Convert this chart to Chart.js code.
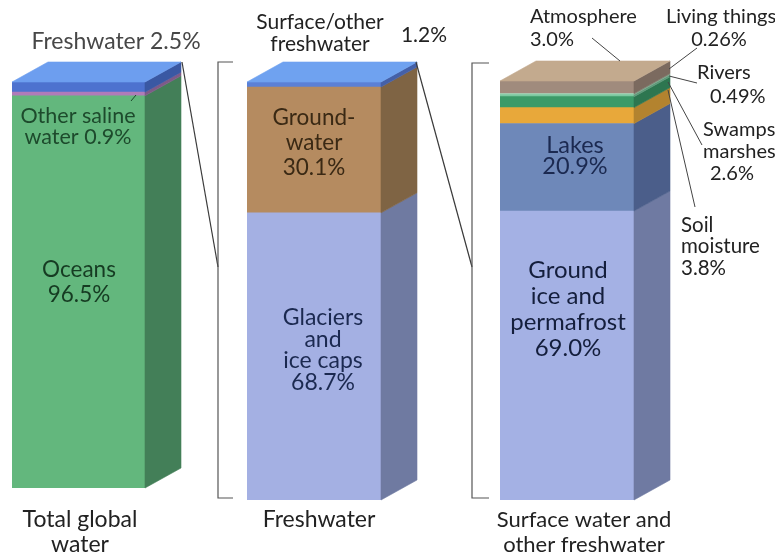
<!DOCTYPE html>
<html>
<head>
<meta charset="utf-8">
<script src="https://cdn.jsdelivr.net/npm/chart.js@4.4.1/dist/chart.umd.min.js"></script>
<style>
html, body { margin: 0; padding: 0; background: #fff; }
#wrap { position: relative; width: 775px; height: 554px; overflow: hidden; }
#wrap canvas { position: absolute; left: 0; top: 0; }
</style>
</head>
<body>
<div id="wrap">
    <canvas id="totalChart" width="775" height="554"></canvas>
    <canvas id="freshChart" width="775" height="554"></canvas>
    <canvas id="surfaceChart" width="775" height="554"></canvas>
</div>
<script>
// categories (one bar each), layers listed bottom -> top
var categories = ['Total global water', 'Freshwater', 'Surface water and other freshwater'];

var totalLabels = ['Oceans', 'Other saline water', 'Freshwater'];
var totalValues = [96.5, 0.9, 2.5];

var freshLabels = ['Glaciers and ice caps', 'Groundwater', 'Surface/other freshwater'];
var freshValues = [68.7, 30.1, 1.2];

var surfaceLabels = ['Ground ice and permafrost', 'Lakes', 'Soil moisture', 'Swamps/marshes', 'Rivers', 'Living things', 'Atmosphere'];
var surfaceValues = [69.0, 20.9, 3.8, 2.6, 0.49, 0.26, 3.0];

// colours
var totalFront = ['#63b77d', '#b07cb9', '#4d72cf'];
var totalSide = ['#437f58', '#7e5a88', '#3a58a3'];
var freshFront = ['#a4b0e3', '#b58b60', '#5b80d6'];
var freshSide = ['#6f7aa1', '#7f6444', '#4460a8'];
var surfaceFront = ['#a4b1e4', '#6e88b9', '#e8a83a', '#3b9a68', '#7cc9a0', '#a8dcc0', '#a08b7d'];
var surfaceSide = ['#6f7aa2', '#4b5e8a', '#b3832f', '#2d7650', '#5e9a7a', '#7fa68c', '#7b6a5f'];

var DX = 36, DY = -20;
var FONT = 'Lato, "Open Sans", sans-serif';

function pct(v) {
    var t = v * 10;
    return (Math.abs(t - Math.round(t)) < 1e-6 ? v.toFixed(1) : v.toFixed(2)) + '%';
}
function sum(a) { return a.reduce(function (s, v) { return s + v; }, 0); }

// side and top faces of the box, taken from the bar elements
var box3d = {
    id: 'box3d',
    afterDatasetsDraw: function (chart, args, opts) {
        var ctx = chart.ctx;
        var n = chart.data.datasets.length;
        ctx.save();
        for (var i = 0; i < n; i++) {
            var bar = chart.getDatasetMeta(i).data[0];
            var p = bar.getProps(['x', 'y', 'base', 'width'], true);
            var left = p.x - p.width / 2, right = p.x + p.width / 2;
            ctx.fillStyle = opts.side[i];
            ctx.strokeStyle = opts.side[i];
            ctx.lineWidth = 0.6;
            ctx.beginPath();
            ctx.moveTo(right, p.y);
            ctx.lineTo(right + DX, p.y + DY);
            ctx.lineTo(right + DX, p.base + DY);
            ctx.lineTo(right, p.base);
            ctx.closePath();
            ctx.fill();
            ctx.stroke();
            if (i === n - 1) {
                ctx.fillStyle = opts.top;
                ctx.strokeStyle = opts.top;
                ctx.beginPath();
                ctx.moveTo(left, p.y);
                ctx.lineTo(left + DX, p.y + DY);
                ctx.lineTo(right + DX, p.y + DY);
                ctx.lineTo(right, p.y);
                ctx.closePath();
                ctx.fill();
                ctx.stroke();
            }
        }
        ctx.restore();
    }
};

// text labels and leader lines
var decor = {
    id: 'decor',
    afterDraw: function (chart, args, opts) {
        var ctx = chart.ctx;
        ctx.save();
        (opts.lines || []).forEach(function (ln) {
            ctx.strokeStyle = ln.color || '#3a3a3a';
            ctx.lineWidth = ln.width || 1.2;
            ctx.beginPath();
            ln.pts.forEach(function (pt, k) {
                if (k === 0) ctx.moveTo(pt[0], pt[1]); else ctx.lineTo(pt[0], pt[1]);
            });
            ctx.stroke();
        });
        (opts.texts || []).forEach(function (t) {
            ctx.font = (t.size || 20) + 'px ' + FONT;
            ctx.fillStyle = t.color || '#222';
            ctx.textAlign = t.align || 'center';
            ctx.textBaseline = 'middle';
            t.lines.forEach(function (s, k) {
                ctx.fillText(s, t.x, t.y + k * (t.lh || 24));
            });
        });
        ctx.restore();
    }
};

function makeBox(id, label, names, values, front, side, top, pad, decorOpts) {
    var ctx = document.getElementById(id).getContext('2d');
    return new Chart(ctx, {
        type: 'bar',
        data: {
            labels: [label],
            datasets: names.map(function (name, i) {
                return {
                    label: name,
                    data: [values[i]],
                    backgroundColor: front[i],
                    borderWidth: 0,
                    barPercentage: 1,
                    categoryPercentage: 1
                };
            })
        },
        options: {
            responsive: false,
            animation: false,
            layout: { padding: pad },
            scales: {
                x: { stacked: true, display: false },
                y: { stacked: true, display: false, min: 0, max: sum(values) }
            },
            plugins: {
                legend: { display: false },
                tooltip: { enabled: false },
                box3d: { side: side, top: top },
                decor: decorOpts
            }
        },
        plugins: [box3d, decor]
    });
}

makeBox('totalChart', categories[0], totalLabels, totalValues, totalFront, totalSide, '#6d9eef',
    { left: 12, right: 630, top: 82, bottom: 66 },
    {
        texts: [
            { lines: ['Freshwater ' + pct(totalValues[2])], x: 116, y: 42, color: '#474747', size: 23 },
            { lines: ['Other saline', 'water ' + pct(totalValues[1])], x: 78, y: 116, lh: 21, color: '#1d4a2c', size: 21.5 },
            { lines: ['Oceans', pct(totalValues[0])], x: 79, y: 270, lh: 25, color: '#163b22', size: 22.5 },
            { lines: ['Total global', 'water'], x: 80, y: 520, lh: 25, color: '#222', size: 23 }
        ],
        lines: [
            { pts: [[131, 101], [136, 95]], color: '#1d4a2c', width: 1 },
            { pts: [[182, 62], [218, 267]] },
            { pts: [[233, 62], [218, 62], [218, 498], [233, 498]], color: '#555' }
        ]
    });

makeBox('freshChart', categories[1], freshLabels, freshValues, freshFront, freshSide, '#6fa2f0',
    { left: 247, right: 394, top: 82, bottom: 54 },
    {
        texts: [
            { lines: ['Surface/other', 'freshwater'], x: 320, y: 22, lh: 22, color: '#222', size: 21 },
            { lines: [pct(freshValues[2])], x: 424, y: 35, color: '#222', size: 21 },
            { lines: ['Ground-', 'water', pct(freshValues[1])], x: 314, y: 118, lh: 25, color: '#3a2914', size: 22.5 },
            { lines: ['Glaciers', 'and', 'ice caps', pct(freshValues[0])], x: 323, y: 318, lh: 21.5, color: '#1b2950', size: 23 },
            { lines: ['Freshwater'], x: 319, y: 520, color: '#222', size: 23 }
        ],
        lines: [
            { pts: [[416, 62], [472, 267]] },
            { pts: [[489, 63], [472, 63], [472, 498], [489, 498]], color: '#555' }
        ]
    });

makeBox('surfaceChart', categories[2], surfaceLabels, surfaceValues, surfaceFront, surfaceSide, '#c3aa8e',
    { left: 500, right: 141, top: 81, bottom: 54 },
    {
        texts: [
            { lines: ['Atmosphere', pct(surfaceValues[6])], x: 530, y: 17, lh: 23, align: 'left', color: '#222', size: 20 },
            { lines: ['Living things'], x: 721, y: 17, color: '#222', size: 20 },
            { lines: [pct(surfaceValues[5])], x: 719, y: 40, color: '#222', size: 20 },
            { lines: ['Rivers'], x: 697, y: 73, align: 'left', color: '#222', size: 20 },
            { lines: [pct(surfaceValues[4])], x: 710, y: 97, align: 'left', color: '#222', size: 20 },
            { lines: ['Swamps/', 'marshes'], x: 703, y: 130, lh: 22, align: 'left', color: '#222', size: 20 },
            { lines: [pct(surfaceValues[3])], x: 710, y: 174, align: 'left', color: '#222', size: 20 },
            { lines: ['Soil', 'moisture', pct(surfaceValues[2])], x: 681, y: 225, lh: 21.5, align: 'left', color: '#222', size: 20.5 },
            { lines: ['Lakes', pct(surfaceValues[1])], x: 575, y: 145, lh: 21, color: '#1b2950', size: 23.5 },
            { lines: ['Ground', 'ice and', 'permafrost', pct(surfaceValues[0])], x: 568, y: 270, lh: 26, color: '#141e3c', size: 24 },
            { lines: ['Surface water and', 'other freshwater'], x: 584, y: 520, lh: 25, color: '#222', size: 22 }
        ],
        lines: [
            { pts: [[592, 38], [620, 61]], color: '#444', width: 1 },
            { pts: [[697, 48], [669, 69]], color: '#444', width: 1 },
            { pts: [[697, 83], [669, 76]], color: '#444', width: 1 },
            { pts: [[702, 145], [668, 82]], color: '#444', width: 1 },
            { pts: [[695, 207], [668, 90]], color: '#444', width: 1 }
        ]
    });
</script>
</body>
</html>
